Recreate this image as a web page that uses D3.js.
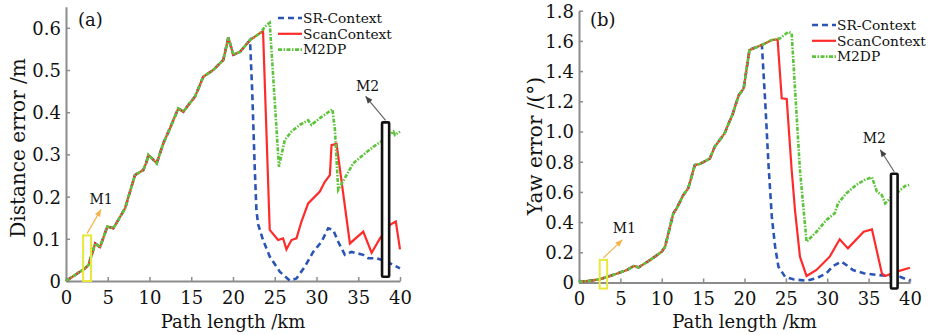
<!DOCTYPE html>
<html><head><meta charset="utf-8">
<script src="https://cdn.jsdelivr.net/npm/d3@7"></script>
<style>body{margin:0;background:#fff}svg{display:block}text{font-family:"DejaVu Serif",serif;fill:#111}</style>
</head><body><svg id="c" width="928" height="335"></svg>
<script>
// ---------- DATA ----------
const seriesNames = ["SR-Context", "ScanContext", "M2DP"];
const xTicks = [0, 5, 10, 15, 20, 25, 30, 35, 40];
const distTicks = [0, 0.1, 0.2, 0.3, 0.4, 0.5, 0.6];
const yawTicks = [0, 0.2, 0.4, 0.6, 0.8, 1.0, 1.2, 1.4, 1.6, 1.8];
const yawTickLabels = ["0", "0.2", "0.4", "0.6", "0.8", "1.0", "1.2", "1.4", "1.6", "1.8"];

// (a) distance error, shared part of all three curves
const distCommon = [[0,0],[2.28,0.03],[2.7,0.038],[3.5,0.089],[4.07,0.08],[4.95,0.129],[5.67,0.125],[6.27,0.145],[7.07,0.172],[8.26,0.251],[9.26,0.263],[9.66,0.283],[9.86,0.299],[10.86,0.279],[11.65,0.326],[12.45,0.362],[13.45,0.409],[14.05,0.401],[14.65,0.417],[15.45,0.437],[16.44,0.484],[17.64,0.5],[18.84,0.524],[19.44,0.577],[20.04,0.536],[20.84,0.543],[22.04,0.571]];
const distSR = [[22.3,0.45],[22.6,0.27],[22.8,0.17],[23.0,0.135],[23.6,0.097],[24.4,0.058],[25.6,0.022],[26.8,0.001],[27.6,0.006],[28.6,0.034],[29.6,0.069],[30.6,0.093],[31.4,0.125],[32.0,0.121],[32.6,0.093],[33.4,0.062],[34.2,0.069],[35.6,0.062],[36.2,0.054],[37.2,0.054],[38.4,0.046],[40,0.03]];
const distScan = [[23.2,0.587],[23.6,0.591],[24.4,0.121],[25.4,0.097],[26.0,0.101],[26.4,0.075],[27.0,0.097],[27.6,0.101],[28.2,0.141],[29.0,0.184],[30.4,0.212],[31.0,0.235],[31.6,0.251],[31.8,0.322],[32.4,0.325],[34.0,0.089],[35.6,0.117],[36.6,0.067],[37.6,0.101],[38.8,0.133],[39.5,0.141],[40,0.075]];
const distM2DP = [[23.2,0.587],[24.0,0.606],[24.4,0.612],[25.5,0.271],[26.2,0.334],[27.0,0.354],[28.0,0.37],[29.0,0.381],[29.4,0.37],[30.4,0.386],[31.2,0.397],[31.9,0.407],[32.2,0.36],[32.6,0.216],[34.4,0.279],[35.6,0.299],[36.8,0.318],[38.0,0.334],[39.2,0.354],[39.4,0.346],[40,0.354]];

// (b) yaw error
const yawCommon = [[0,0.003],[2.5,0.021],[4.1,0.05],[5.8,0.083],[6.6,0.109],[7.2,0.1],[8.6,0.149],[10.0,0.204],[10.4,0.237],[11.4,0.458],[11.8,0.491],[12.6,0.579],[13.2,0.624],[14.0,0.778],[14.6,0.785],[15.8,0.82],[16.4,0.899],[17.6,0.988],[18.6,1.12],[19.3,1.24],[19.9,1.286],[20.6,1.54],[22.1,1.573]];
const yawSR = [[22.5,1.2],[22.9,0.78],[23.1,0.61],[23.3,0.436],[23.7,0.237],[24.1,0.105],[24.9,0.038],[25.9,0.021],[27.5,0.012],[28.7,0.028],[29.9,0.061],[30.7,0.109],[31.7,0.138],[32.3,0.116],[33.1,0.083],[34.4,0.061],[36.0,0.05],[37.6,0.043],[38.8,0.038],[40,0.012]];
const yawScan = [[23.3,1.606],[24.0,1.61],[24.5,1.22],[25.1,1.215],[25.7,0.745],[26.1,0.48],[26.7,0.171],[27.5,0.043],[28.7,0.083],[30.3,0.171],[31.5,0.286],[32.5,0.226],[34.4,0.336],[35.4,0.352],[36.6,0.061],[37.0,0.043],[38.4,0.072],[40,0.098]];
const yawM2DP = [[23.3,1.606],[24.3,1.617],[25.3,1.66],[25.7,1.65],[26.7,0.745],[27.5,0.27],[28.7,0.336],[29.9,0.414],[30.9,0.458],[31.3,0.524],[32.3,0.59],[33.5,0.646],[34.5,0.679],[35.4,0.697],[36.0,0.601],[36.6,0.579],[37.0,0.524],[37.8,0.568],[38.6,0.601],[39.4,0.639],[39.9,0.646]];

// markers M1/M2 : [x0, x1, y0, y1] in data units
const distM1 = [2.05, 3.0, -0.0, 0.108];
const distM2 = [37.85, 38.7, 0.01, 0.376];
const yawM1 = [2.5, 3.4, -0.04, 0.15];
const yawM2 = [37.7, 38.5, -0.04, 0.72];

// ---------- DRAW ----------
const svg = d3.select("#c");
const colors = {sr:"#2b55b5", scan:"#ff2b2b", m2:"#5cc43a"};
const axisCol = "#8c8c8c";

function panel(o) {
  const x = d3.scaleLinear().domain([0, 40]).range(o.xr);
  const y = d3.scaleLinear().domain(o.yd).range(o.yr);
  const g = svg.append("g");

  // axes
  const ax = g.append("g").attr("transform", `translate(0,${o.yr[0]})`)
    .call(d3.axisBottom(x).tickValues(xTicks).tickSizeInner(-4).tickSizeOuter(0).tickPadding(10));
  const ay = g.append("g").attr("transform", `translate(${o.xr[0]},0)`)
    .call(d3.axisLeft(y).tickValues(o.ticks).tickFormat((d,i)=>o.tickLabels[i]).tickSizeInner(-4).tickSizeOuter(0).tickPadding(5));
  [ax, ay].forEach(a => {
    a.select(".domain").attr("stroke", axisCol).attr("stroke-width", 2);
    a.selectAll(".tick line").attr("stroke", axisCol).attr("stroke-width", 1.5);
    a.selectAll(".tick text").style("font-size", "18px").attr("fill", "#111");
  });
  ay.selectAll(".tick text").attr("dy", "0.36em");

  const line = d3.line().x(d => x(d[0])).y(d => y(d[1]));
  const sr = o.common.concat(o.sr), sc = o.common.concat(o.scan), m2 = o.common.concat(o.m2);
  g.append("path").attr("d", line(sr)).attr("fill","none").attr("stroke",colors.sr).attr("stroke-width",2.6).attr("stroke-dasharray","6,4");
  g.append("path").attr("d", line(sc)).attr("fill","none").attr("stroke",colors.scan).attr("stroke-width",2.2);
  g.append("path").attr("d", line(m2)).attr("fill","none").attr("stroke",colors.m2).attr("stroke-width",2.6).attr("stroke-dasharray","4,1.5,1.5,1.5");

  // M1 marker
  const r1 = o.m1;
  g.append("rect").attr("x", x(r1[0])).attr("y", y(r1[3])).attr("width", x(r1[1])-x(r1[0])).attr("height", y(r1[2])-y(r1[3]))
    .attr("fill","none").attr("stroke","#e8e83a").attr("stroke-width",2);
  const m1x = (x(r1[0])+x(r1[1]))/2;
  g.append("line").attr("x1", m1x).attr("y1", y(r1[3])-2).attr("x2", m1x+o.a1[0]).attr("y2", y(r1[3])+o.a1[1])
    .attr("stroke","#f5b24a").attr("stroke-width",1.2);
  arrowHead(g, m1x, y(r1[3])-2, m1x+o.a1[0], y(r1[3])+o.a1[1], "#f5b24a");
  g.append("text").attr("x", m1x+o.t1[0]).attr("y", y(r1[3])+o.t1[1]).attr("text-anchor","middle").style("font-size","14px").text("M1");

  // M2 marker
  const r2 = o.m2r;
  g.append("rect").attr("x", x(r2[0])).attr("y", y(r2[3])).attr("width", x(r2[1])-x(r2[0])).attr("height", y(r2[2])-y(r2[3]))
    .attr("fill","#fff").attr("stroke","#111").attr("stroke-width",2.6).attr("rx",1);
  const m2x = (x(r2[0])+x(r2[1]))/2;
  g.append("line").attr("x1", m2x).attr("y1", y(r2[3])-2).attr("x2", m2x+o.a2[0]).attr("y2", y(r2[3])+o.a2[1])
    .attr("stroke","#666").attr("stroke-width",1.2);
  arrowHead(g, m2x, y(r2[3])-2, m2x+o.a2[0], y(r2[3])+o.a2[1], "#444");
  g.append("text").attr("x", m2x+o.t2[0]).attr("y", y(r2[3])+o.t2[1]).attr("text-anchor","middle").style("font-size","14px").text("M2");

  // legend
  const lg = g.append("g").attr("transform", `translate(${o.leg[0]},${o.leg[1]})`);
  const styles = [[colors.sr,"6,4",2.6],[colors.scan,null,2.2],[colors.m2,"4,1.5,1.5,1.5",2.6]];
  const texts = [];
  seriesNames.forEach((n,i) => {
    const yy = i*15.8;
    lg.append("line").attr("x1",0).attr("x2",24).attr("y1",yy).attr("y2",yy)
      .attr("stroke",styles[i][0]).attr("stroke-width",styles[i][2]).attr("stroke-dasharray",styles[i][1]);
    texts.push(lg.append("text").attr("x",25).attr("y",yy).attr("dy","0.35em").style("font-size","14px").text(n));
  });
  const w = texts[1].node().getComputedTextLength();
  if (w > 89) texts.forEach(t => t.style("font-size", (14*89/w).toFixed(2)+"px"));

  // labels
  g.append("text").attr("x", o.pl[0]).attr("y", o.pl[1]).style("font-size","18px").text(o.panel);
  g.append("text").attr("x", (o.xr[0]+o.xr[1])/2).attr("y", 328).attr("text-anchor","middle").style("font-size","18px").text("Path length /km");
  g.append("text").attr("transform", `translate(${o.yl[0]},${o.yl[1]}) rotate(-90)`).attr("text-anchor","middle").style("font-size","20px").text(o.ylabel);
}

function arrowHead(g, x1, y1, x2, y2, col) {
  const ang = Math.atan2(y2-y1, x2-x1), L = 7, W = 3;
  const bx = x2 - L*Math.cos(ang), by = y2 - L*Math.sin(ang);
  const px = -Math.sin(ang)*W, py = Math.cos(ang)*W;
  g.append("path").attr("d", `M${x2},${y2}L${bx+px},${by+py}L${bx-px},${by-py}Z`).attr("fill", col);
}

panel({xr:[66,400], yd:[0,0.65], yr:[281,6.7], ticks:distTicks, tickLabels:distTicks.map(String),
  common:distCommon, sr:distSR, scan:distScan, m2:distM2DP, m1:distM1, m2r:distM2,
  a1:[14,-26], t1:[14,-31], a2:[-20,-26], t2:[-18,-31], leg:[278,18], pl:[78,26], panel:"(a)",
  yl:[25,148], ylabel:"Distance error /m"});
panel({xr:[579,910], yd:[0,1.8], yr:[282.5,10.7], ticks:yawTicks, tickLabels:yawTickLabels,
  common:yawCommon, sr:yawSR, scan:yawScan, m2:yawM2DP, m1:yawM1, m2r:yawM2,
  a1:[19,-20], t1:[21,-27], a2:[-14,-24], t2:[-20,-31], leg:[812,25], pl:[590,26], panel:"(b)",
  yl:[542,146], ylabel:"Yaw error /(°)"});
</script></body></html>
